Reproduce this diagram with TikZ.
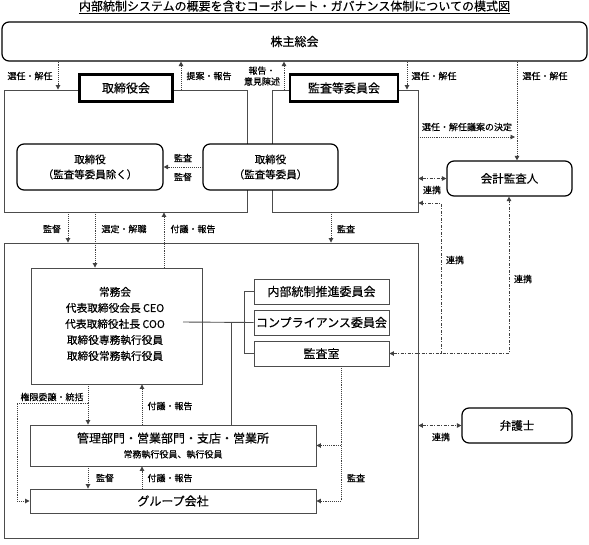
\documentclass[tikz,border=0pt]{standalone}
\usepackage{fontspec}
\setmainfont{Noto Sans CJK JP}[FakeBold=0.3]
\usepackage{tikz}
\usetikzlibrary{arrows.meta}

\begin{document}
\begin{tikzpicture}[x=1pt,y=-1pt,
    area/.style={draw=black!70, line width=0.9pt, inner sep=0pt},
    box/.style={draw=black!70, line width=0.9pt, fill=white, inner sep=0pt, align=center, font=\fontsize{12}{14}\selectfont},
    thickbox/.style={draw=black, line width=2.6pt, fill=white, inner sep=0pt, font=\fontsize{12}{14}\selectfont},
    rbox/.style={draw=black, line width=1.2pt, rounded corners=7pt, fill=white, inner sep=0pt, align=center, font=\fontsize{12}{14}\selectfont},
    lbl/.style={inner sep=0pt, font=\fontsize{9}{11}\selectfont, align=center},
    solidline/.style={draw=black!70, line width=0.9pt},
    dotarrow/.style={draw=black!75, line width=0.9pt, densely dotted, -{Triangle[length=4.5pt,width=4.5pt]}},
    linkline/.style={draw=black!75, line width=0.9pt, dash pattern=on 3pt off 1.5pt on 1pt off 1.5pt},
    linkarrow/.style={linkline, {Triangle[length=4.5pt,width=4.5pt]}-{Triangle[length=4.5pt,width=4.5pt]}},
]
\useasboundingbox (0,0) rectangle (589,544);

% title
\node[inner sep=0pt, font=\fontsize{12}{14}\selectfont] (title) at (294.5,7) {\underline{内部統制システムの概要を含むコーポレート・ガバナンス体制についての模式図}};

% areas
\node[area, minimum width=243, minimum height=122] (bdarea) at (125.5,151) {};
\node[area, minimum width=146, minimum height=122] (acarea) at (345,151) {};
\node[area, minimum width=414, minimum height=295] (mgarea) at (211,390.5) {};

% top
\node[rbox, minimum width=585, minimum height=39] (sk) at (294.5,41.5) {株主総会};
\node[thickbox, minimum width=93.4, minimum height=27.4] (torikai) at (126,88) {取締役会};
\node[thickbox, minimum width=108, minimum height=27.4] (kansakai) at (344,88) {監査等委員会};

% directors
\node[rbox, font=\fontsize{10.5}{15}\selectfont, minimum width=146, minimum height=46] (tori1) at (90,167) {取締役\\（監査等委員除く）};
\node[rbox, font=\fontsize{10.5}{15}\selectfont, minimum width=135, minimum height=46] (tori2) at (270.5,167) {取締役\\（監査等委員）};
\node[rbox, font=\fontsize{11.5}{14}\selectfont, minimum width=125, minimum height=35] (kaikei) at (509.5,178.5) {会計監査人};
\node[rbox, font=\fontsize{11.5}{14}\selectfont, minimum width=110, minimum height=35] (bengo) at (517,425.5) {弁護士};

% executive
\node[box, minimum width=171, minimum height=116] (jomu) at (116.5,326) {};
\node[inner sep=0pt, align=center, font=\fontsize{10.7}{16}\selectfont] (jomutxt) at (115,324)
    {常務会\\代表取締役会長 CEO\\代表取締役社長 COO\\取締役専務執行役員\\取締役常務執行役員};
\node[box, minimum width=135, minimum height=25] (naibu) at (321.5,291.5) {内部統制推進委員会};
\node[box, minimum width=135, minimum height=25] (comp) at (321.5,322.5) {コンプライアンス委員会};
\node[box, minimum width=135, minimum height=25] (kansashitsu) at (321.5,353.5) {監査室};
\node[box, font=\fontsize{12}{15}\selectfont, minimum width=286, minimum height=41] (kanri) at (173,445.5)
    {管理部門・営業部門・支店・営業所\\{\fontsize{9}{11}\selectfont 常務執行役員、執行役員}};
\node[box, minimum width=286, minimum height=24] (group) at (173,501) {グループ会社};

% solid lines
\coordinate (coo) at (183,322);
\draw[solidline] (coo) -- (comp.west);
\draw[solidline] (naibu.west) -- ++(-9,0) |- (kansashitsu.west);
\draw[solidline] (231,0 |- comp.west) -- (231,0 |- kanri.north);

% shareholders
\draw[dotarrow] (58,0 |- sk.south) -- (58,0 |- bdarea.north);
\node[lbl] (l1) at (30,76) {選任・解任};
\draw[dotarrow] (181,0 |- bdarea.north) -- (181,0 |- sk.south);
\node[lbl] (l2) at (209,76) {提案・報告};
\draw[dotarrow] (284,0 |- acarea.north) -- (284,0 |- sk.south);
\node[lbl] (l3) at (262,76) {報告・\\意見陳述};
\draw[dotarrow] (407,0 |- sk.south) -- (407,0 |- acarea.north);
\node[lbl] (l4) at (434,76) {選任・解任};
\draw[dotarrow] (517,0 |- sk.south) -- (517,0 |- kaikei.north);
\node[lbl] (l5) at (545,76) {選任・解任};
\coordinate (giann) at (515,137);
\draw[dotarrow] (acarea.east |- giann) -- (giann);
\node[lbl] (l6) at (467,127) {選任・解任議案の決定};

% board
\draw[dotarrow] (tori2.west) -- (tori1.east);
\node[lbl] (l7) at (183,158) {監査};
\node[lbl] (l8) at (183,177) {監督};
\draw[linkarrow] (acarea.east |- kaikei.west) -- (kaikei.west);
\node[lbl] (l9) at (432,190) {連携};

% to executive
\draw[dotarrow] (68,0 |- bdarea.south) -- (68,0 |- mgarea.north);
\node[lbl] (l10) at (52,229) {監督};
\draw[dotarrow] (95,0 |- bdarea.south) -- (95,0 |- jomu.north);
\node[lbl] (l11) at (124,229) {選定・解職};
\draw[dotarrow] (164,0 |- jomu.north) -- (164,0 |- bdarea.south);
\node[lbl] (l12) at (193,229) {付議・報告};
\draw[dotarrow] (331,0 |- acarea.south) -- (331,0 |- mgarea.north);
\node[lbl] (l13) at (346,229) {監査};

% cooperation with auditor
\draw[linkline, -{Triangle[length=4.5pt,width=4.5pt]}] (441,0 |- kansashitsu.east) |- (acarea.east |- 0,203);
\draw[linkarrow] (kansashitsu.east) -| (kaikei.south -| 509,0);
\node[lbl] (l14) at (455,260) {連携};
\node[lbl] (l15) at (523,279) {連携};

% departments
\draw[dotarrow] (88,0 |- jomu.south) -- (88,0 |- kanri.north);
\draw[dotarrow] (88,403) -| (group.west -| 17,0) -- (group.west);
\node[lbl] (l16) at (52,397) {権限委譲・統括};
\draw[dotarrow] (142,0 |- kanri.north) -- (142,0 |- jomu.south);
\node[lbl] (l17) at (170,406) {付議・報告};
\draw[dotarrow] (88,0 |- kanri.south) -- (88,0 |- group.north);
\node[lbl] (l18) at (105,478) {監督};
\draw[dotarrow] (142,0 |- group.north) -- (142,0 |- kanri.south);
\node[lbl] (l19) at (170,478) {付議・報告};
\draw[dotarrow] (341,0 |- kansashitsu.south) |- (group.east);
\draw[dotarrow] (341,0 |- kanri.east) -- (kanri.east);
\node[lbl] (l20) at (356,478) {監査};

% lawyer
\draw[linkarrow] (mgarea.east |- bengo.west) -- (bengo.west);
\node[lbl] (l21) at (441,437) {連携};
\end{tikzpicture}
\end{document}
